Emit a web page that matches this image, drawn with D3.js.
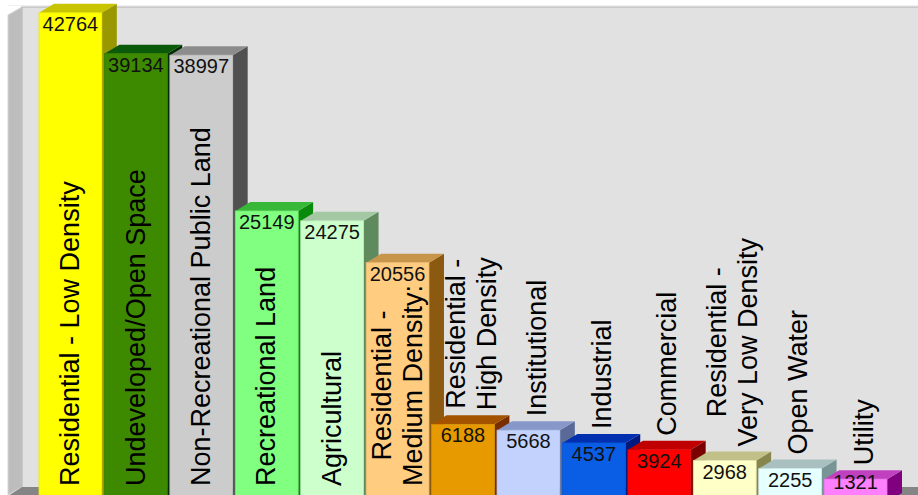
<!DOCTYPE html>
<html>
<head>
<meta charset="utf-8">
<script src="https://cdn.jsdelivr.net/npm/d3@7"></script>
<style>
html, body { margin: 0; padding: 0; background: #fff; }
svg { display: block; font-family: "Liberation Sans", Arial, sans-serif; }
</style>
</head>
<body>
<div id="chart"></div>
<script>
// land use acreage
const categories = [
  "Residential - Low Density", "Undeveloped/Open Space", "Non-Recreational Public Land",
  "Recreational Land", "Agricultural", "Residential -\nMedium Density:",
  "Residential -\nHigh Density", "Institutional", "Industrial", "Commercial",
  "Residential -\nVery Low Density", "Open Water", "Utility"
];
const values = [42764, 39134, 38997, 25149, 24275, 20556, 6188, 5668, 4537, 3924, 2968, 2255, 1321];
const frontColors = ["#ffff00", "#3d8a00", "#cccccc", "#80ff80", "#ccffcc", "#ffcc80", "#e69a00", "#c2d2fc", "#0a5ee6", "#ff0000", "#ffffc8", "#e6ffff", "#ff80ff"];
const topColors = ["#c8c400", "#0a5a0a", "#8c8c8c", "#38b838", "#a3c8a3", "#c8964a", "#a35200", "#8797c9", "#0030b0", "#c00000", "#c0c088", "#a8c0c0", "#c040c0"];
const sideColors = ["#9a9800", "#002a00", "#505050", "#0a8a0a", "#5e8a5e", "#8b5a10", "#7a2e00", "#5a6a98", "#001880", "#7a0000", "#86864e", "#789494", "#800080"];

const width = 918, height = 495;
const depthX = 15, depthY = -9;

const svg = d3.select('#chart').append('svg').attr('width', width).attr('height', height);

const x = d3.scaleBand().domain(categories).range([39, 887]).paddingInner(0.04).paddingOuter(0);
const y = d3.scaleLinear().domain([0, 43900]).range([494, 0]);
const base = y(0);

// walls and floor
const wallTop = 7, wallLeft = 22, sideLeft = 8;
svg.append('polygon')
  .attr('points', [[sideLeft, wallTop + 8], [wallLeft, wallTop], [wallLeft, base + depthY + 2], [sideLeft, height]].join(' '))
  .attr('fill', '#bdbdbd').attr('stroke', '#d6d6d6').attr('stroke-width', 1);
svg.append('rect')
  .attr('x', wallLeft).attr('y', wallTop).attr('width', width - wallLeft + 2).attr('height', base - wallTop)
  .attr('fill', '#e1e1e1').attr('stroke', '#b2b2b2').attr('stroke-width', 1);
svg.append('line')
  .attr('x1', sideLeft).attr('x2', width).attr('y1', wallTop - 1.5).attr('y2', wallTop - 1.5)
  .attr('stroke', '#efefef').attr('stroke-width', 1);
svg.append('polygon')
  .attr('points', [[sideLeft, height + 1], [wallLeft, base + depthY + 2], [width, base + depthY + 2], [width, height + 1]].join(' '))
  .attr('fill', '#858585');

// bars, left to right so each front face covers the previous side face
const bars = svg.append('g');
categories.forEach((c, i) => {
  const x0 = x(c), x1 = x(c) + x.bandwidth(), yt = y(values[i]);
  const g = bars.append('g');
  g.append('polygon')
    .attr('points', [[x1, yt], [x1 + depthX, yt + depthY], [x1 + depthX, base + depthY + 8], [x1, base + 8]].join(' '))
    .attr('fill', sideColors[i]);
  g.append('polygon')
    .attr('points', [[x0, yt], [x0 + depthX, yt + depthY], [x1 + depthX, yt + depthY], [x1, yt]].join(' '))
    .attr('fill', topColors[i]);
  g.append('rect')
    .attr('x', x0).attr('y', yt).attr('width', x.bandwidth()).attr('height', base - yt + 8)
    .attr('fill', frontColors[i])
    .attr('stroke', d3.color(frontColors[i]).darker(0.25)).attr('stroke-width', 0.8);
});

// value labels
svg.append('g').selectAll('text').data(values).join('text')
  .attr('x', (d, i) => x(categories[i]) + x.bandwidth() / 2)
  .attr('y', d => Math.min(y(d) + 18, 489))
  .attr('text-anchor', 'middle')
  .attr('font-size', 20)
  .attr('fill', '#111')
  .text(d => d);

// category labels, rotated; inside the bar when they fit, else above it
const fontSize = 27, lineStep = 31, capH = fontSize * 0.716;
const labels = svg.append('g').attr('font-size', fontSize).attr('fill', '#000').attr('text-anchor', 'middle');
categories.forEach((c, i) => {
  const lines = c.split('\n');
  const texts = lines.map(l => labels.append('text').text(l));
  const len = d3.max(texts, t => t.node().getComputedTextLength());
  const yt = y(values[i]);
  const inside = base - yt - 30 > len;
  const startY = inside ? 486 : yt + depthY - 5;
  const cx = x(c) + x.bandwidth() / 2 + (inside ? -1 : depthX / 2);
  texts.forEach((t, k) => {
    const lx = cx + (k - (lines.length - 1) / 2) * lineStep + capH / 2;
    t.attr('transform', `translate(${lx},${startY - len / 2}) rotate(-90)`);
  });
});
</script>
</body>
</html>
